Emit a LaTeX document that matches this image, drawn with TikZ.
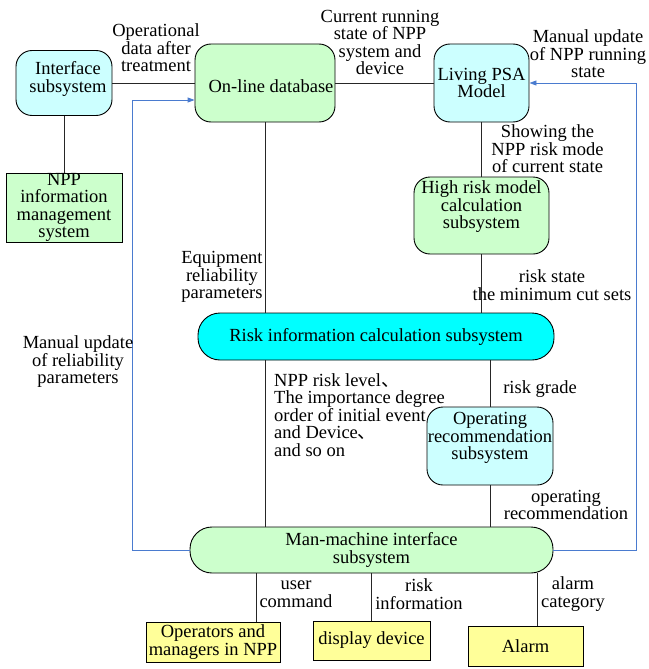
\documentclass[tikz,border=0pt]{standalone}
\usepackage{fontspec}
\setmainfont{Liberation Serif}
\newfontfamily\cjk{Noto Sans CJK SC}
\usetikzlibrary{arrows.meta}
\definecolor{paleCyan}{HTML}{CCFFFF}
\definecolor{paleGreen}{HTML}{CCFFCC}
\definecolor{paleYellow}{HTML}{FFFF99}
\definecolor{vivCyan}{HTML}{00FFFF}
\definecolor{linkBlue}{HTML}{4A7BCF}
\begin{document}
\begin{tikzpicture}[x=1pt,y=-1pt,
  every node/.style={font=\fontsize{18.5}{17.5}\selectfont, inner sep=0pt},
  box/.style={draw=black, line width=0.9pt, align=center},
  roundbox/.style={box, rounded corners=16pt},
  pillbox/.style={box, rounded corners=22pt},
  lbl/.style={align=center},
  link/.style={draw=black!85, line width=0.8pt},
  manual/.style={draw=linkBlue, line width=0.9pt, -{Triangle[length=7pt,width=5pt]}},
]
\useasboundingbox (0,0) rectangle (648,669);

% ---- boxes ----
\node[roundbox, fill=paleCyan, minimum width=96pt, minimum height=65pt] (iface) at (64,83) {};
\node[lbl] (ifacetext) at (68,79) {Interface\\subsystem};
\node[box, fill=paleGreen, minimum width=116pt, minimum height=69pt] (npp) at (64,207.5)
  {NPP\\information\\management\\system};
\node[roundbox, fill=paleGreen, minimum width=140pt, minimum height=78pt] (db) at (265,83) {};
\node[lbl] (dbtext) at (271,86) {On-line database};
\node[roundbox, fill=paleCyan, minimum width=95pt, minimum height=78pt] (psa) at (481.5,83)
  {Living PSA\\Model};
\node[roundbox, fill=paleGreen, minimum width=135pt, minimum height=77pt] (high) at (481.5,215.5) {};
\node[lbl] (hightext) at (481.5,207) {High risk model\\calculation\\subsystem};
\node[pillbox, fill=vivCyan, minimum width=356pt, minimum height=47pt] (risk) at (376,336.5)
  {Risk information calculation subsystem};
\node[roundbox, fill=paleCyan, minimum width=126pt, minimum height=78pt] (oprec) at (490,446) {};
\node[lbl] (oprectext) at (490,438) {Operating\\recommendation\\subsystem};
\node[pillbox, fill=paleGreen, minimum width=363pt, minimum height=46pt] (mmi) at (371.5,550)
  {Man-machine interface\\subsystem};
\node[box, fill=paleYellow, minimum width=134pt, minimum height=40pt] (ops) at (213,642)
  {Operators and\\managers in NPP};
\node[box, fill=paleYellow, minimum width=117pt, minimum height=39pt] (disp) at (371.5,640.5)
  {display device};
\node[box, fill=paleYellow, minimum width=115pt, minimum height=40pt] (alarm) at (525.5,646)
  {Alarm};

% ---- connectors ----
\draw[link] (iface) -- (npp);
\draw[link] (iface.east) -- (db.west);
\draw[link] (db.east) -- (psa.west);
\draw[link] (psa) -- (high);
\draw[link] (high.south) -- (high.south |- risk.north);
\draw[link] (db.south) -- (db.south |- risk.north);
\draw[link] (risk.south -| db.south) -- (mmi.north -| db.south);
\draw[link] (risk.south -| oprec.north) -- (oprec.north);
\draw[link] (oprec.south) -- (oprec.south |- mmi.north);
\draw[link] ([xshift=43pt]ops.north |- mmi.south) -- ([xshift=43pt]ops.north);
\draw[link] (disp.north |- mmi.south) -- (disp.north);
\draw[link] ([xshift=11.5pt]alarm.north |- mmi.south) -- ([xshift=11.5pt]alarm.north);

% ---- manual update feedback ----
\draw[manual] (mmi.west) -- ++(-57,0) |- ([yshift=-17pt]db.west);
\draw[manual] (mmi.east) -- ++(83,0) |- (psa.east);

% ---- labels ----
\node[lbl] (l1) at (156,48) {Operational\\data after\\treatment};
\node[lbl] (l2) at (380,42.5) {Current running\\state of NPP\\system and\\device};
\node[lbl] (l3) at (588,54) {Manual update\\of NPP running\\state};
\node[lbl] (l4) at (547.5,149) {Showing the\\NPP risk mode\\of current state};
\node[lbl] (l5) at (222,277) {Equipment\\reliability\\parameters};
\node[lbl] (l6) at (552,285) {risk state\\the minimum cut sets};
\node[lbl] (l7) at (78,362) {Manual update\\of reliability\\parameters};
\node[align=left, anchor=west] (l8) at (274,415)
  {NPP risk level{\cjk 、}\\The importance degree\\order of initial event\\and Device{\cjk 、}\\and so on};
\node[lbl] (l9) at (540,389) {risk grade};
\node[lbl] (l10) at (566,505) {operating\\recommendation};
\node[lbl] (l11) at (296,594) {user\\command};
\node[lbl] (l12) at (419,594) {risk\\information};
\node[lbl] (l13) at (573,594) {alarm\\category};
\end{tikzpicture}
\end{document}
